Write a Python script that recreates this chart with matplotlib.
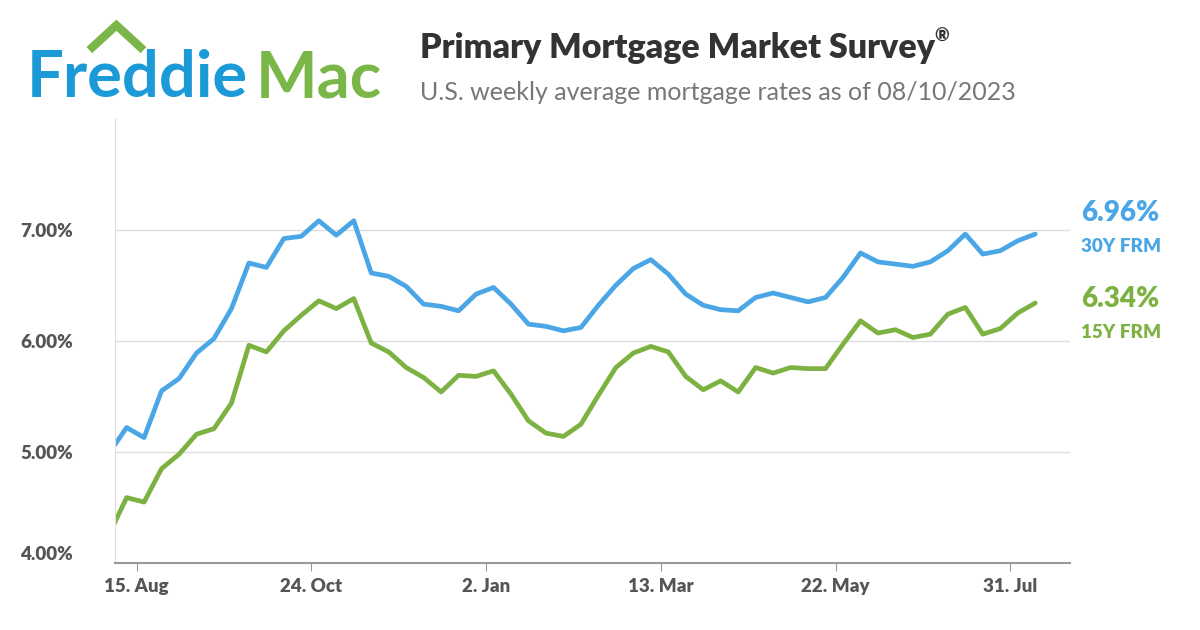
import matplotlib.pyplot as plt
import pandas as pd

dates = pd.date_range("2022-08-04", "2023-08-10", freq="7D")
rate_30y = [4.99, 5.22, 5.13, 5.55, 5.66, 5.89, 6.02, 6.29, 6.70, 6.66, 6.92, 6.94, 7.08,
            6.95, 7.08, 6.61, 6.58, 6.49, 6.33, 6.31, 6.27, 6.42, 6.48, 6.33, 6.15, 6.13,
            6.09, 6.12, 6.32, 6.50, 6.65, 6.73, 6.60, 6.42, 6.32, 6.28, 6.27, 6.39, 6.43,
            6.39, 6.35, 6.39, 6.57, 6.79, 6.71, 6.69, 6.67, 6.71, 6.81, 6.96, 6.78, 6.81,
            6.90, 6.96]
rate_15y = [4.26, 4.59, 4.55, 4.85, 4.98, 5.16, 5.21, 5.44, 5.96, 5.90, 6.09, 6.23, 6.36,
            6.29, 6.38, 5.98, 5.90, 5.76, 5.67, 5.54, 5.69, 5.68, 5.73, 5.52, 5.28, 5.17,
            5.14, 5.25, 5.51, 5.76, 5.89, 5.95, 5.90, 5.68, 5.56, 5.64, 5.54, 5.76, 5.71,
            5.76, 5.75, 5.75, 5.97, 6.18, 6.07, 6.10, 6.03, 6.06, 6.24, 6.30, 6.06, 6.11,
            6.25, 6.34]
tick_dates = pd.to_datetime(["2022-08-15", "2022-10-24", "2023-01-02", "2023-03-13",
                             "2023-05-22", "2023-07-31"])
tick_labels = ["15. Aug", "24. Oct", "2. Jan", "13. Mar", "22. May", "31. Jul"]
y_ticks = [4, 5, 6, 7]

blue = "#4ba6e6"
green = "#7db243"
grey = "#555555"

fig = plt.figure(figsize=(12, 6.3), dpi=100)
ax = fig.add_axes([0.0958, 0.106, 0.796, 0.706])
ax.plot(dates, rate_30y, color=blue, lw=3.4, solid_capstyle="round", solid_joinstyle="round")
ax.plot(dates, rate_15y, color=green, lw=3.4, solid_capstyle="round", solid_joinstyle="round")
ax.set_xlim(pd.Timestamp("2022-08-06 08:00"), pd.Timestamp("2023-08-24"))
ax.set_ylim(4, 8)

ax.set_yticks(y_ticks)
ax.set_yticklabels([f"{v:.2f}%" for v in y_ticks], fontsize=13.5, fontweight="heavy", color=grey,
                   fontfamily="Lato")
ax.tick_params(axis="y", length=0, pad=68)
for lab in ax.get_yticklabels():
    lab.set_horizontalalignment("left")
ax.yaxis.get_majorticklabels()[0].set_va("bottom")
ax.grid(axis="y", color="#dddddd", lw=1)
ax.set_xticks(tick_dates)
ax.set_xticklabels(tick_labels, fontsize=13.5, fontweight="heavy", color=grey, fontfamily="Lato")
ax.tick_params(axis="x", length=6, color="#999999", pad=5)
for s in ["top", "right"]:
    ax.spines[s].set_visible(False)
ax.spines["left"].set_color("#dddddd")
ax.spines["bottom"].set_color("#999999")
ax.spines["bottom"].set_linewidth(1.5)

# end labels
ax.annotate(f"{rate_30y[-1]:.2f}%", (dates[-1], rate_30y[-1]), xytext=(33, 15),
            textcoords="offset points", color=blue, fontsize=20, fontweight="heavy",
            fontfamily="Lato", va="center")
ax.annotate("30Y FRM", (dates[-1], rate_30y[-1]), xytext=(33, -9), textcoords="offset points",
            color=blue, fontsize=13.5, fontweight="heavy", fontfamily="Lato", va="center")
ax.annotate(f"{rate_15y[-1]:.2f}%", (dates[-1], rate_15y[-1]), xytext=(33, 3),
            textcoords="offset points", color=green, fontsize=20, fontweight="heavy",
            fontfamily="Lato", va="center")
ax.annotate("15Y FRM", (dates[-1], rate_15y[-1]), xytext=(33, -21), textcoords="offset points",
            color=green, fontsize=13.5, fontweight="heavy", fontfamily="Lato", va="center")

# header
fig.text(0.022, 0.875, "Freddie", color="#1b9ad7", fontsize=47, fontweight="bold",
         fontfamily="Lato", va="center")
fig.text(0.213, 0.875, "Mac", color="#7ab648", fontsize=47, fontweight="bold",
         fontfamily="Lato", va="center")
fig.add_artist(plt.Line2D([0.077, 0.097, 0.117], [0.925, 0.96, 0.925], color="#7ab648", lw=6,
                          solid_joinstyle="miter", transform=fig.transFigure))
fig.text(0.35, 0.924, "Primary Mortgage Market Survey", fontsize=24.5, fontweight="heavy",
         color="#333333", fontfamily="Lato", va="center")
fig.text(0.779, 0.942, "®", fontsize=13, fontweight="heavy", color="#333333",
         fontfamily="Lato", va="center")
fig.text(0.35, 0.853, "U.S. weekly average mortgage rates as of 08/10/2023", fontsize=18,
         color="#777777", fontfamily="Lato", va="center")

fig.savefig("out.png")
